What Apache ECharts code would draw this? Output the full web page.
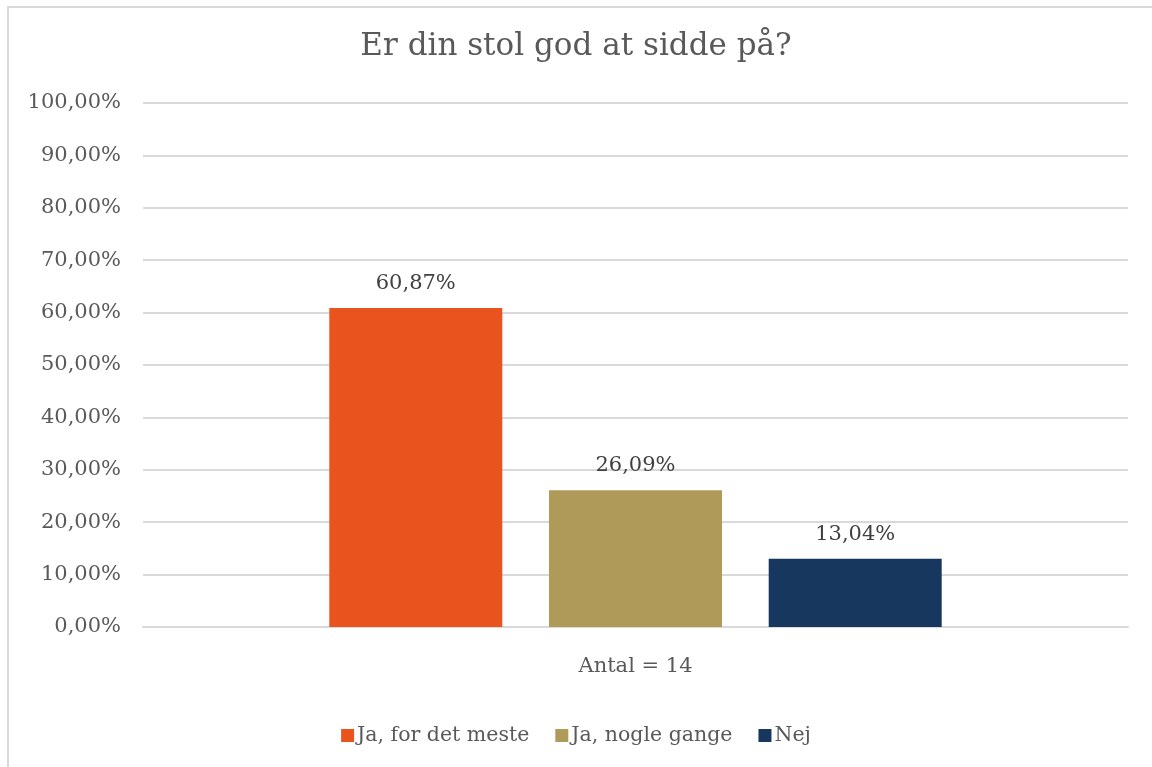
<!DOCTYPE html>
<html>
<head>
<meta charset="utf-8">
<script src="https://cdn.jsdelivr.net/npm/echarts@6/dist/echarts.min.js"></script>
<style>
  html, body { margin: 0; padding: 0; background: #fff; }
  #main { width: 1152px; height: 767px; }
</style>
</head>
<body>
<div id="main"></div>
<script>
var categories = ['Antal = 14'];
var seriesNames = ['Ja, for det meste', 'Ja, nogle gange', 'Nej'];
var seriesValues = [[60.87], [26.09], [13.04]];
var colors = ['#e8531e', '#b09a5a', '#17375e'];

var font = '"DejaVu Serif", "Liberation Serif", serif';
var textColor = '#595959';

function pct(v) {
    return v.toFixed(2).replace('.', ',') + '%';
}

var myChart = echarts.init(document.getElementById('main'));

var series = [];
for (var i = 0; i < seriesNames.length; i++) {
    series.push({
        name: seriesNames[i],
        type: 'bar',
        data: seriesValues[i],
        barWidth: 173,
        barGap: '27%',
        itemStyle: { color: colors[i] },
        label: {
            show: true,
            position: 'top',
            distance: 14,
            color: '#404040',
            fontFamily: font,
            fontSize: 21,
            formatter: function (p) { return pct(p.value); }
        }
    });
}

var option = {
    animation: false,
    backgroundColor: '#fff',
    title: {
        text: 'Er din stol god at sidde på?',
        left: 'center',
        top: 26,
        textStyle: { fontFamily: font, fontWeight: 'normal', fontSize: 31, color: textColor }
    },
    // 外框
    graphic: [{
        type: 'rect',
        shape: { x: 8, y: 7, width: 1300, height: 900 },
        style: { fill: 'none', stroke: '#d9d9d9', lineWidth: 2 },
        silent: true
    }],
    legend: {
        data: seriesNames,
        bottom: 16,
        left: 'center',
        itemWidth: 13,
        itemHeight: 13,
        itemGap: 26,
        icon: 'rect',
        textStyle: { fontFamily: font, fontSize: 20.5, color: textColor, padding: [0, 0, 0, -2] }
    },
    grid: { left: 143, right: 24, top: 103, bottom: 140 },
    xAxis: {
        type: 'category',
        data: categories,
        axisLine: { lineStyle: { color: '#d9d9d9', width: 2 } },
        axisTick: { show: false },
        axisLabel: { fontFamily: font, fontSize: 21, color: textColor, margin: 29 }
    },
    yAxis: {
        type: 'value',
        min: 0,
        max: 100,
        interval: 10,
        axisLine: { show: false },
        axisTick: { show: false },
        splitLine: { lineStyle: { color: '#d9d9d9', width: 2 } },
        axisLabel: {
            fontFamily: font, fontSize: 21, color: textColor, margin: 22,
            formatter: function (v) { return pct(v); }
        }
    },
    series: series
};

myChart.setOption(option);
</script>
</body>
</html>
